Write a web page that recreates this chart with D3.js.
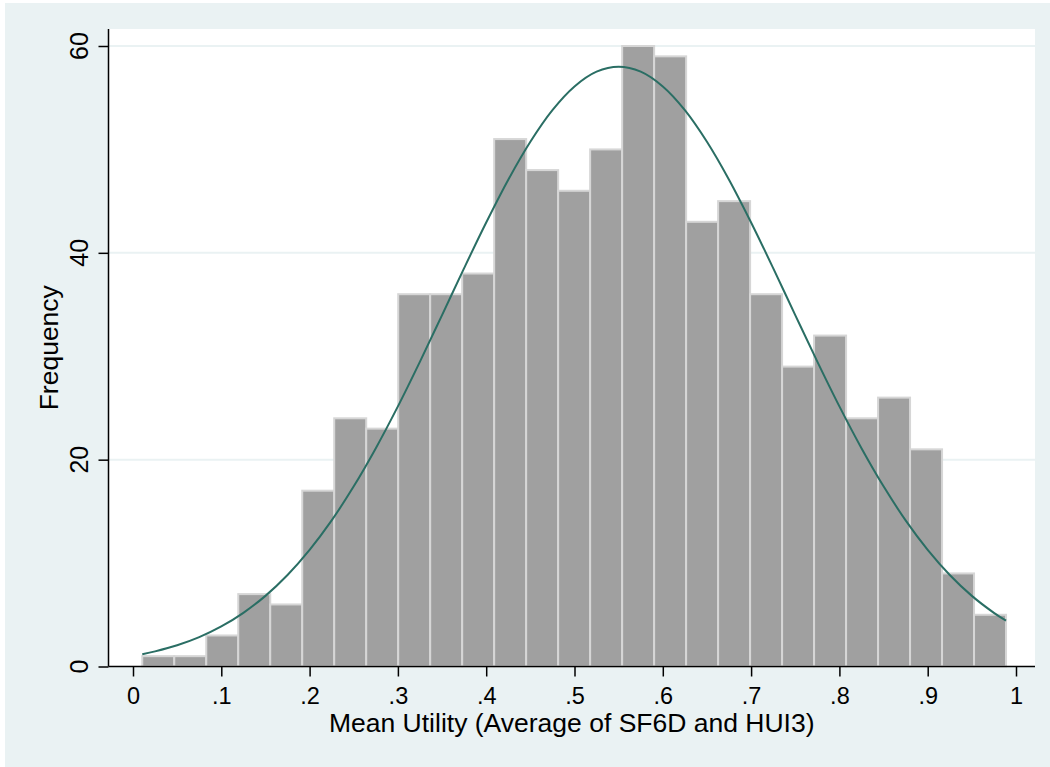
<!DOCTYPE html>
<html>
<head>
<meta charset="utf-8">
<script src="https://cdn.jsdelivr.net/npm/d3@7"></script>
<style>
body { margin: 0; background: #fff; }
text { font-family: "Liberation Sans", Arial, sans-serif; fill: #000; }
</style>
</head>
<body>
<script>
//histogram counts, 27 bins
var counts = [1, 1, 3, 7, 6, 17, 24, 23, 36, 36, 38, 51, 48, 46, 50, 60, 59, 43, 45, 36, 29, 32, 24, 26, 21, 9, 5];
var binStart = 0.0105,
    binWidth = 0.03623;

//normal overlay, points
var curveX = [0.0105, 0.025, 0.05, 0.075, 0.1, 0.125, 0.15, 0.175, 0.2, 0.225, 0.25, 0.275, 0.3, 0.325, 0.35, 0.375, 0.4, 0.425, 0.45, 0.475, 0.5, 0.525, 0.55,
    0.575, 0.6, 0.625, 0.65, 0.675, 0.7, 0.725, 0.75, 0.775, 0.8, 0.825, 0.85, 0.875, 0.9, 0.925, 0.95, 0.975, 0.9887];
var curveY = [1.18, 1.46, 2.05, 2.84, 3.87, 5.19, 6.83, 8.85, 11.28, 14.13, 17.42, 21.11, 25.15, 29.48, 33.98, 38.52, 42.93, 47.07, 50.74, 53.8, 56.09, 57.52, 58,
    57.52, 56.09, 53.8, 50.74, 47.07, 42.93, 38.52, 33.98, 29.48, 25.15, 21.11, 17.42, 14.13, 11.28, 8.85, 6.83, 5.19, 4.43];

var xTicks = [0, 0.1, 0.2, 0.3, 0.4, 0.5, 0.6, 0.7, 0.8, 0.9, 1];
var xTickLabels = ["0", ".1", ".2", ".3", ".4", ".5", ".6", ".7", ".8", ".9", "1"];
var yTicks = [0, 20, 40, 60];

var width = 1050,
    height = 767;

//plot region edges
var plotLeft = 108.5,
    plotRight = 1035,
    plotTop = 29,
    plotBottom = 666.5;

var svg = d3.select("body")
    .append("svg")
    .attr("width", width)
    .attr("height", height);

//graph region and plot region
svg.append("rect")
    .attr("x", 5).attr("y", 3)
    .attr("width", width - 5).attr("height", height - 3)
    .attr("fill", "#eaf2f3");

svg.append("rect")
    .attr("x", plotLeft).attr("y", plotTop)
    .attr("width", plotRight - plotLeft).attr("height", plotBottom - plotTop)
    .attr("fill", "#fff");

var x = d3.scaleLinear().domain([0, 1]).range([133, 1016]);
var y = d3.scaleLinear().domain([0, 60]).range([plotBottom, 46]);

//gridlines
svg.selectAll(".grid")
    .data(yTicks.filter(function(d){ return d > 0; }))
    .enter()
    .append("line")
    .attr("class", "grid")
    .attr("x1", plotLeft).attr("x2", plotRight)
    .attr("y1", function(d){ return y(d); })
    .attr("y2", function(d){ return y(d); })
    .attr("stroke", "#eaf2f3")
    .attr("stroke-width", 2);

//bars
svg.selectAll(".bar")
    .data(counts)
    .enter()
    .append("rect")
    .attr("class", "bar")
    .attr("x", function(d, i){ return x(binStart + i * binWidth); })
    .attr("width", function(d, i){ return x(binStart + (i + 1) * binWidth) - x(binStart + i * binWidth); })
    .attr("y", function(d){ return y(d); })
    .attr("height", function(d){ return y(0) - y(d); })
    .attr("fill", "#a0a0a0")
    .attr("stroke", "#d6d6d6")
    .attr("stroke-width", 2);

//normal curve
var line = d3.line()
    .x(function(d){ return x(d[0]); })
    .y(function(d){ return y(d[1]); })
    .curve(d3.curveCatmullRom);

svg.append("path")
    .datum(d3.zip(curveX, curveY))
    .attr("d", line)
    .attr("fill", "none")
    .attr("stroke", "#2a6e64")
    .attr("stroke-width", 2);

//y axis
var yAxis = svg.append("g")
    .attr("transform", "translate(" + plotLeft + ",0)")
    .call(d3.axisLeft(y).tickValues(yTicks).tickSize(10).tickFormat(""));
yAxis.select(".domain").remove();
yAxis.selectAll("line").attr("stroke", "#000").attr("stroke-width", 1.5);

svg.append("line")
    .attr("x1", plotLeft).attr("x2", plotLeft)
    .attr("y1", plotTop).attr("y2", plotBottom)
    .attr("stroke", "#000").attr("stroke-width", 1.5);

svg.selectAll(".ylab")
    .data(yTicks)
    .enter()
    .append("text")
    .attr("class", "ylab")
    .attr("transform", function(d){ return "translate(88," + y(d) + ") rotate(-90)"; })
    .attr("text-anchor", "middle")
    .style("font-size", "25px")
    .text(function(d){ return d; });

svg.append("text")
    .attr("transform", "translate(58," + (plotTop + plotBottom) / 2 + ") rotate(-90)")
    .attr("text-anchor", "middle")
    .style("font-size", "26.5px")
    .text("Frequency");

//x axis
var xAxis = svg.append("g")
    .attr("transform", "translate(0," + plotBottom + ")")
    .call(d3.axisBottom(x).tickValues(xTicks).tickSize(10)
        .tickFormat(function(d, i){ return xTickLabels[i]; }));
xAxis.select(".domain").remove();
xAxis.selectAll("line").attr("stroke", "#000").attr("stroke-width", 1.5);
xAxis.selectAll("text")
    .attr("y", 37).attr("dy", 0)
    .style("font-size", "23.5px")
    .style("font-family", "Liberation Sans, Arial, sans-serif");

svg.append("line")
    .attr("x1", plotLeft).attr("x2", plotRight)
    .attr("y1", plotBottom).attr("y2", plotBottom)
    .attr("stroke", "#000").attr("stroke-width", 1.5);

svg.append("text")
    .attr("x", (plotLeft + plotRight) / 2)
    .attr("y", 732)
    .attr("text-anchor", "middle")
    .style("font-size", "26.5px")
    .text("Mean Utility (Average of SF6D and HUI3)");
</script>
</body>
</html>
